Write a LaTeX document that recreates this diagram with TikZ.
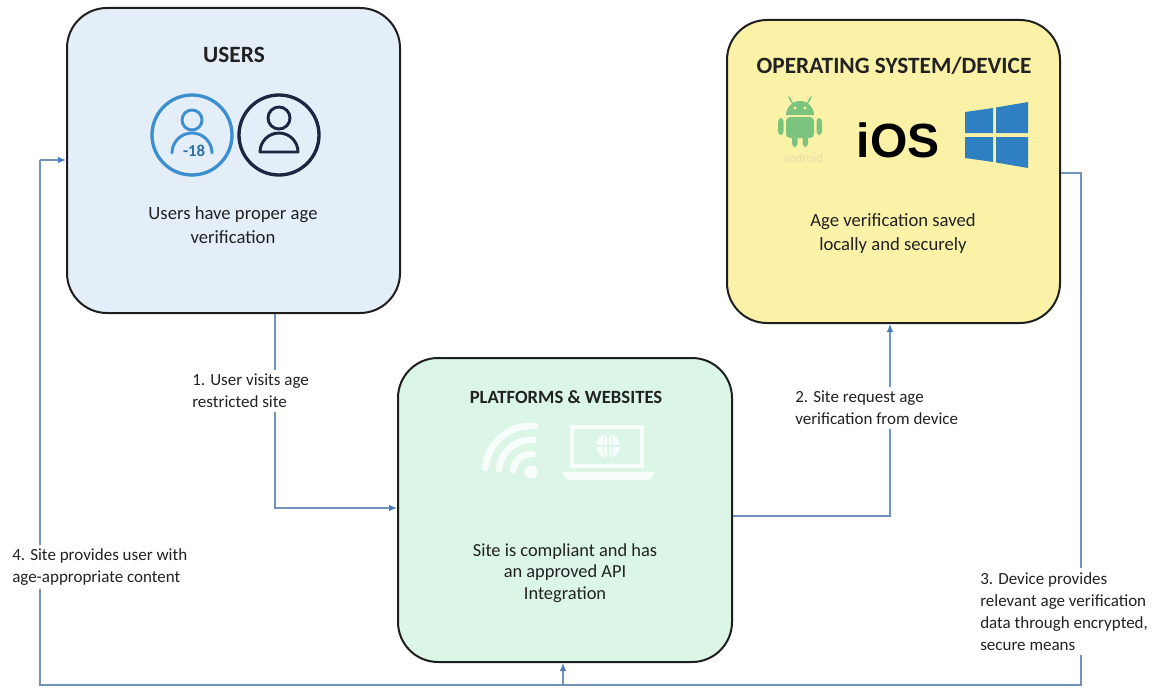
\documentclass[tikz,border=0pt]{standalone}
\usepackage{fontspec}
\setmainfont{Carlito}
\newfontfamily\iosfont{Liberation Sans}
\usetikzlibrary{arrows.meta}
\definecolor{usersfill}{HTML}{E4EEF8}
\definecolor{osfill}{HTML}{FBF2A8}
\definecolor{platfill}{HTML}{DBF5E6}
\definecolor{edgec}{HTML}{1E1E1E}
\definecolor{connc}{HTML}{6F93BC}
\definecolor{tipc}{HTML}{4A7DC0}
\definecolor{lblue}{HTML}{3C8FCF}
\definecolor{ldark}{HTML}{2E6FA8}
\definecolor{navy}{HTML}{1C2642}
\definecolor{andr}{HTML}{7CC47E}
\definecolor{andrtxt}{HTML}{E6DCAA}
\definecolor{winb}{HTML}{2F7FC3}
\definecolor{txt}{HTML}{222222}
\begin{document}
\begin{tikzpicture}[x=0.75pt,y=-0.75pt,
  box/.style={draw=edgec, line width=1.5pt, rounded corners=30pt, inner sep=0pt},
  title/.style={font=\bfseries\fontsize{17.5}{20}\selectfont, text=txt},
  titlesmall/.style={font=\bfseries\fontsize{14}{17}\selectfont, text=txt},
  body/.style={font=\fontsize{14}{18}\selectfont, align=center, text=txt},
  bodytight/.style={font=\fontsize{13.8}{16.2}\selectfont, align=center, text=txt},
  lbl/.style={font=\fontsize{12.75}{16.6}\selectfont, align=left, fill=white, inner sep=3pt, text=txt, anchor=west},
  connector/.style={draw=connc, line width=0.9pt},
  tip/.style={-{Latex[length=6pt,width=5pt,color=tipc]}},
  icon/.style={line width=2.2pt, line cap=round, line join=round}
]
\useasboundingbox (0,0) rectangle (1170,692);

% boxes
\node[box, fill=usersfill, minimum width=333*0.75pt, minimum height=305*0.75pt] (users) at (233.5,160.5) {};
\node[box, fill=osfill, minimum width=333*0.75pt, minimum height=303*0.75pt] (os) at (893.5,171.5) {};
\node[box, fill=platfill, minimum width=334*0.75pt, minimum height=304*0.75pt] (plat) at (565,510) {};

% titles and texts
\node[title] (usersT) at (234,55) {USERS};
\node[title] (osT) at (894,66) {OPERATING SYSTEM/DEVICE};
\node[titlesmall] (platT) at (566,397) {PLATFORMS \& WEBSITES};
\node[body] (usersB) at (233,225) {Users have proper age\\verification};
\node[body] (osB) at (893,234) {Age verification saved\\locally and securely};
\node[bodytight] (platB) at (565,573) {Site is compliant and has\\an approved API\\Integration};

% user icons
\draw[lblue, line width=2.5pt] (192,135) circle[radius=40];
\draw[lblue, icon] (192,120) circle[radius=10];
\draw[lblue, icon] (172,153) arc[start angle=180, end angle=360, radius=20];
\node[font=\bfseries\fontsize{12.5}{13}\selectfont, text=ldark, inner sep=0pt] (age) at (194,151) {-18};
\draw[navy, line width=2.5pt] (279,135) circle[radius=40];
\draw[navy, icon] (279,118) circle[radius=11];
\draw[navy, icon] (260,152) arc[start angle=180, end angle=360, radius=19] -- cycle;

% android
\fill[andr] (786,115) arc[start angle=180, end angle=360, radius=14] -- cycle;
\draw[andr, line width=1.1pt, line cap=round] (793,104) -- (789,97) (807,104) -- (811,97);
\fill[osfill] (795,108) circle[radius=1.6] (805,108) circle[radius=1.6];
\fill[andr, rounded corners=3] (786,117) rectangle (814,138);
\fill[andr, rounded corners=2.5] (778,118) rectangle (783.5,135);
\fill[andr, rounded corners=2.5] (816.5,118) rectangle (822,135);
\fill[andr, rounded corners=2.5] (792,134) rectangle (797.5,147);
\fill[andr, rounded corners=2.5] (802.5,134) rectangle (808,147);
\node[font=\fontsize{9.5}{10}\selectfont, text=andrtxt] (andrT) at (803,158) {android};

% iOS
\node[font=\iosfont\bfseries\fontsize{36}{36}\selectfont, anchor=base, inner sep=0pt] (ios) at (898,157) {iOS};

% windows
\fill[winb] (965,112) -- (993,108) -- (993,133) -- (965,133) -- cycle;
\fill[winb] (996,107.5) -- (1028,102) -- (1028,133) -- (996,133) -- cycle;
\fill[winb] (965,137) -- (993,137) -- (993,162) -- (965,158) -- cycle;
\fill[winb] (996,137) -- (1028,137) -- (1028,168) -- (996,162.5) -- cycle;

% platform icons
\fill[white, opacity=0.8] (531,472) circle[radius=6.5];
\foreach \r in {18,32,46} {
  \draw[white, opacity=0.8, line width=5pt, line cap=round] (531,472) ++(185:\r) arc[start angle=185, end angle=275, radius=\r];
}
\draw[white, opacity=0.8, line width=3pt] (572,427) rectangle (642,466);
\fill[white, opacity=0.8, rounded corners=2] (561,472) -- (656,472) -- (650,480) -- (567,480) -- cycle;
\fill[white, opacity=0.8] (608,446) circle[radius=12];
\draw[platfill, line width=0.8pt] (608,434) -- (608,458) (596,446) -- (620,446);
\draw[platfill, line width=0.8pt] (608,446) ellipse[x radius=5, y radius=12];

% connectors
\coordinate (c1) at (275,508);
\draw[connector, tip] (users.south -| c1) -- (c1) -- (plat.west |- c1);
\coordinate (c2) at (890,516);
\draw[connector, tip] (plat.east |- c2) -- (c2) -- (os.south -| c2);
\coordinate (c3a) at (1081,173);
\coordinate (c3b) at (1081,685);
\coordinate (c4a) at (40,685);
\coordinate (c4b) at (40,160);
\draw[connector] (os.east |- c3a) -- (c3a) -- (c3b) -- (c4a) -- (c4b);
\draw[connector, tip] (c4b) -- (users.west |- c4b);
\coordinate (c5) at (563,685);
\draw[connector, tip] (c5) -- (plat.south -| c5);

% labels
\node[lbl] (l1) at (188,391) {1. User visits age\\restricted site};
\node[lbl] (l2) at (791,408) {2. Site request age\\verification from device};
\node[lbl] (l3) at (976,611.5) {3. Device provides\\relevant age verification\\data through encrypted,\\secure means};
\node[lbl] (l4) at (8,567) {4. Site provides user with\\age-appropriate content};
\end{tikzpicture}
\end{document}
